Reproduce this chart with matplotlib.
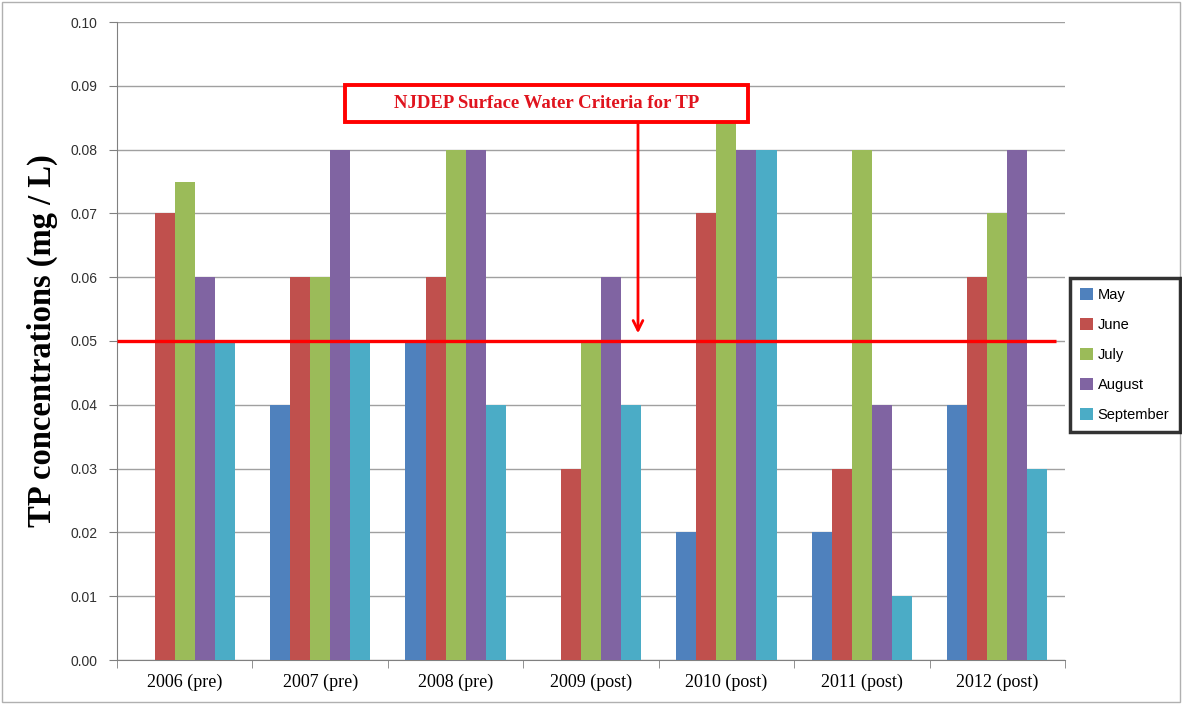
import matplotlib
matplotlib.use("Agg")
import matplotlib.pyplot as plt
from matplotlib.patches import Rectangle
import numpy as np

categories = ["2006 (pre)", "2007 (pre)", "2008 (pre)", "2009 (post)",
              "2010 (post)", "2011 (post)", "2012 (post)"]
months = ["May", "June", "July", "August", "September"]
may = [0.0, 0.04, 0.05, 0.0, 0.02, 0.02, 0.04]
june = [0.07, 0.06, 0.06, 0.03, 0.07, 0.03, 0.06]
july = [0.075, 0.06, 0.08, 0.05, 0.09, 0.08, 0.07]
august = [0.06, 0.08, 0.08, 0.06, 0.08, 0.04, 0.08]
september = [0.05, 0.05, 0.04, 0.04, 0.08, 0.01, 0.03]
series = [may, june, july, august, september]
colors = ["#4F81BD", "#C0504D", "#9BBB59", "#8064A2", "#4BACC6"]
criteria = 0.05
yticks = [0.00, 0.01, 0.02, 0.03, 0.04, 0.05, 0.06, 0.07, 0.08, 0.09, 0.10]

W, H = 1182, 704
fig = plt.figure(figsize=(W / 100, H / 100), dpi=100)
ax = fig.add_axes([117 / W, 44 / H, (1065 - 117) / W, (660 - 22) / H])

x = np.arange(len(categories))
w = 0.148
for i, (vals, c, m) in enumerate(zip(series, colors, months)):
    ax.bar(x + (i - 2) * w, vals, width=w, color=c, label=m, zorder=3)

ax.set_xlim(-0.5, len(categories) - 0.5)
ax.set_ylim(0, 0.10)
ax.set_yticks(yticks)
ax.set_yticklabels([f"{v:.2f}" for v in yticks], fontfamily="Liberation Sans", fontsize=10,
                   color="#303030")
ax.yaxis.grid(True, color="#A0A0A0", lw=1, zorder=0)
ax.set_axisbelow(True)

ax.set_xticks(x)
ax.set_xticklabels(categories, fontfamily="Liberation Serif", fontsize=13)
ax.tick_params(axis="x", length=0, pad=10)
ax.set_xticks(np.arange(len(categories) + 1) - 0.5, minor=True)
ax.tick_params(axis="x", which="minor", length=6, color="#808080", direction="out")
ax.tick_params(axis="y", length=6, color="#808080", direction="out", pad=8)

for s in ["top", "right"]:
    ax.spines[s].set_visible(False)
for s in ["left", "bottom"]:
    ax.spines[s].set_color("#808080")

ax.set_ylabel("TP concentrations (mg / L)", fontfamily="Liberation Serif",
              fontsize=23.5, fontweight="bold")
ax.yaxis.set_label_coords(-(117 - 58) / (1065 - 117), 0.5)

# criteria line from the y-axis to just short of the legend
ax.plot([-0.5, (1056 - 117) / 135.43 - 0.5], [criteria, criteria], color="#FF0000",
        lw=2.4, clip_on=False, zorder=5, solid_capstyle="butt")

# arrow from the box to the line
ax.annotate("", xy=(3.347, 0.0512), xytext=(3.347, 0.0843),
            arrowprops=dict(arrowstyle="->,head_length=0.7,head_width=0.35",
                            color="#FF0000", lw=2.0, shrinkA=0, shrinkB=0), zorder=6)

# annotation box (figure pixel coordinates)
bx0, by0, bx1, by1 = 345, 85, 748, 122
fig.patches.append(Rectangle((bx0 / W, 1 - by1 / H), (bx1 - bx0) / W, (by1 - by0) / H,
                             transform=fig.transFigure, fc="white", ec="#FF0000",
                             lw=2.8, zorder=8))
fig.text((bx0 + bx1) / 2 / W, 1 - (by0 + by1) / 2 / H, "NJDEP Surface Water Criteria for TP",
         ha="center", va="center", color="#E0141E", fontfamily="Liberation Serif",
         fontsize=13.5, fontweight="bold", zorder=9)

leg = fig.legend(loc="upper left", bbox_to_anchor=(1070 / W, 1 - 278 / H),
                 prop={"family": "Liberation Sans", "size": 10.5},
                 frameon=True, fancybox=False, handlelength=0.9, handleheight=0.9,
                 handletextpad=0.3, labelspacing=1.08, borderpad=0.7,
                 borderaxespad=0)
leg.get_frame().set_edgecolor("black")
leg.get_frame().set_linewidth(2.5)

fig.patches.append(Rectangle((0.002, 0.003), 0.996, 0.994, transform=fig.transFigure,
                             fill=False, ec="#B0B0B0", lw=1))

fig.savefig("out.png", dpi=100)
